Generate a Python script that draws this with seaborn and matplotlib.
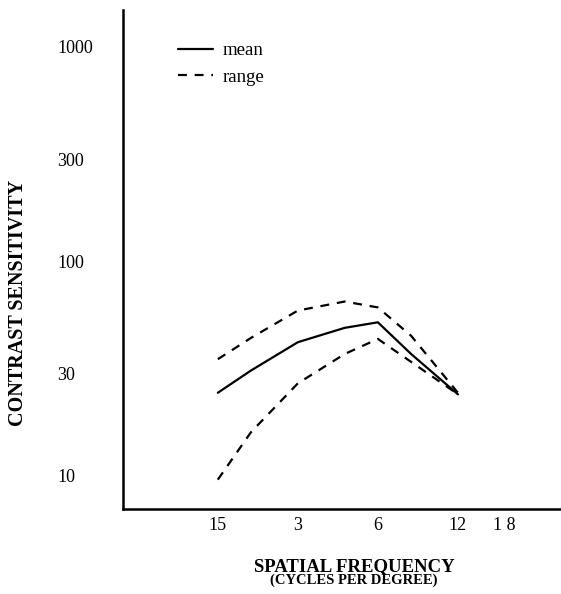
import matplotlib
matplotlib.use("Agg")
import matplotlib.pyplot as plt
import seaborn as sns
import pandas as pd

# values (cycles per degree vs contrast sensitivity)
freq = [1.5, 2, 3, 4.5, 6, 8, 12]
mean_cs = [24.4, 31, 42, 49, 52, 37, 24]
upper_cs = [35, 44, 59, 65, 61, 45, 24.4]
lower_cs = [9.6, 16, 27, 37, 43.5, 34, 24]

x_ticks = [1.5, 3, 6, 12, 18]
x_labels = ["15", "3", "6", "12", "1 8"]
y_ticks = [10, 30, 100, 300, 1000]
y_labels = ["10", "30", "100", "300", "1000"]

df = pd.DataFrame({"freq": freq, "mean": mean_cs, "upper": upper_cs, "lower": lower_cs})

sns.set_style("white")
plt.rcParams["font.family"] = ["Liberation Serif", "DejaVu Serif"]
plt.rcParams["text.color"] = "black"
plt.rcParams["xtick.color"] = "black"
plt.rcParams["ytick.color"] = "black"

fig = plt.figure(figsize=(5.61, 5.94), dpi=100)
ax = fig.add_axes([0.219, 0.143, 0.781, 0.84])

sns.lineplot(data=df, x="freq", y="mean", ax=ax, color="black", lw=1.6, label="mean")
sns.lineplot(data=df, x="freq", y="upper", ax=ax, color="black", lw=1.6,
             linestyle=(0, (4, 3.5)), label="range")
sns.lineplot(data=df, x="freq", y="lower", ax=ax, color="black", lw=1.6,
             linestyle=(0, (4, 3.5)))

ax.set_xscale("log")
ax.set_yscale("log")
ax.set_xlim(0.659, 29.3)
ax.set_ylim(7.0, 1486)
ax.set_xticks(x_ticks)
ax.set_xticklabels(x_labels)
ax.set_yticks(y_ticks)
ax.set_yticklabels(y_labels)
ax.minorticks_off()
ax.tick_params(axis="both", length=0, labelsize=13)
ax.tick_params(axis="x", pad=6)
ax.tick_params(axis="y", pad=47)
for lab in ax.get_yticklabels():
    lab.set_horizontalalignment("left")
ax.set_xlabel("")
ax.set_ylabel("")

for side in ["top", "right"]:
    ax.spines[side].set_visible(False)
for side in ["left", "bottom"]:
    ax.spines[side].set_color("black")
    ax.spines[side].set_linewidth(1.8)

ax.legend(loc="upper left", bbox_to_anchor=(0.087, 0.97), frameon=False,
          fontsize=13.5, handlelength=1.9, handletextpad=0.5, labelspacing=0.5)

fig.text(0.631, 0.047, "SPATIAL FREQUENCY", ha="center", va="center",
         fontsize=13.5, fontweight="bold")
fig.text(0.631, 0.0236, "(CYCLES PER DEGREE)", ha="center", va="center",
         fontsize=10.5, fontweight="bold")
fig.text(0.032, 0.49, "CONTRAST SENSITIVITY", ha="center", va="center",
         rotation=90, fontsize=14.5, fontweight="bold")

fig.savefig("out.png", dpi=100)
